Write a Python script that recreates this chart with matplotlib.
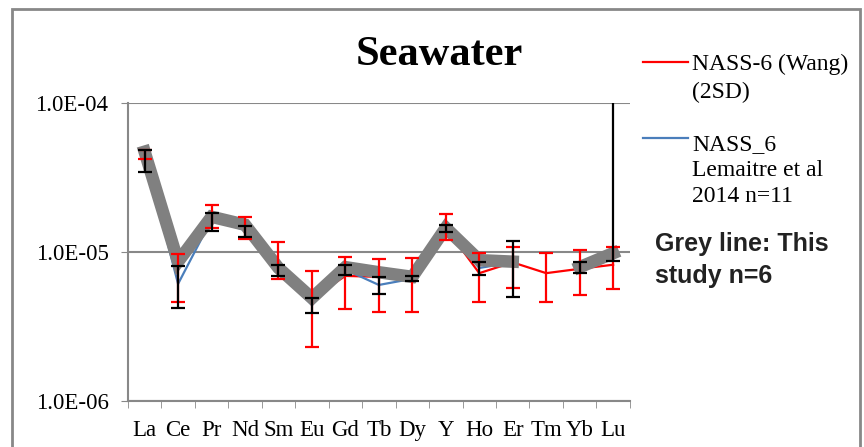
import matplotlib.pyplot as plt
from matplotlib.lines import Line2D
from matplotlib.patches import Rectangle
from matplotlib.ticker import FixedLocator, NullLocator
import numpy as np

elements = ['La', 'Ce', 'Pr', 'Nd', 'Sm', 'Eu', 'Gd', 'Tb', 'Dy', 'Y', 'Ho', 'Er', 'Tm', 'Yb', 'Lu']

# NASS-6 (Wang), 2SD bars
wang = [4.5e-5, 8.5e-6, 1.75e-5, 1.45e-5, 8.0e-6, 4.9e-6, 6.9e-6, 6.8e-6, 6.6e-6,
        1.45e-5, 7.2e-6, 8.5e-6, 7.2e-6, 7.7e-6, 8.2e-6]
wang_lo = [4.21e-5, 4.6e-6, 1.45e-5, 1.22e-5, 6.6e-6, 2.3e-6, 4.14e-6, 3.96e-6, 3.96e-6,
           1.2e-5, 4.62e-6, 5.73e-6, 4.62e-6, 5.14e-6, 5.65e-6]
wang_hi = [4.84e-5, 9.7e-6, 2.07e-5, 1.72e-5, 1.17e-5, 7.45e-6, 9.25e-6, 8.98e-6, 9.12e-6,
           1.80e-5, 9.85e-6, 1.08e-5, 9.85e-6, 1.03e-5, 1.08e-5]

# NASS_6 Lemaitre et al 2014
lem = [4.6e-5, 6.1e-6, 1.65e-5, 1.40e-5, 7.5e-6, 4.4e-6, 7.6e-6, 6.0e-6, 6.6e-6,
       1.45e-5, 7.8e-6, 8.5e-6, np.nan, 7.9e-6, 9.0e-6]
lem_lo = [3.44e-5, 4.21e-6, 1.38e-5, 1.26e-5, 6.9e-6, 3.9e-6, 7.0e-6, 5.23e-6, 6.4e-6,
          1.35e-5, 7.0e-6, 5.0e-6, np.nan, 7.23e-6, 8.7e-6]
lem_hi = [4.84e-5, 8.0e-6, 1.83e-5, 1.49e-5, 8.18e-6, 4.9e-6, 8.2e-6, 6.8e-6, 6.9e-6,
          1.52e-5, 8.6e-6, 1.19e-5, np.nan, 8.6e-6, 1.6e-4]

# this study n=6
grey = [4.7e-5, 8.6e-6, 1.72e-5, 1.52e-5, 7.8e-6, 4.9e-6, 7.9e-6, 7.3e-6, 6.8e-6,
        1.45e-5, 8.8e-6, 8.6e-6, np.nan, 7.9e-6, 9.8e-6]

x = np.arange(len(elements))
wang = np.array(wang)
lem = np.array(lem)

fig = plt.figure(figsize=(8.64, 4.47), dpi=100)
ax = fig.add_axes([0.148, 0.103, 0.581, 0.667])

ax.plot(x, wang, color='#ff0000', lw=1.6, zorder=2)
ax.plot(x, lem, color='#4a7ebb', lw=1.6, zorder=2)
ax.plot(x, grey, color='#808080', lw=9, zorder=3, solid_joinstyle='miter')

ax.errorbar(x, wang, yerr=[wang - np.array(wang_lo), np.array(wang_hi) - wang],
            fmt='none', ecolor='#ff0000', elinewidth=1.6, capsize=5, capthick=1.6, zorder=4)
ax.errorbar(x, lem, yerr=[lem - np.array(lem_lo), np.array(lem_hi) - lem],
            fmt='none', ecolor='black', elinewidth=1.6, capsize=5, capthick=1.6, zorder=5)

ax.set_yscale('log')
ax.set_ylim(1e-6, 1e-4)
ax.set_xlim(-0.5, len(elements) - 0.5)
ax.yaxis.set_major_locator(FixedLocator([1e-6, 1e-5, 1e-4]))
ax.yaxis.set_minor_locator(NullLocator())
ax.set_yticklabels(['1.0E-06', '1.0E-05', '1.0E-04'], family='Liberation Serif', fontsize=16.5)
ax.set_xticks(x)
ax.set_xticklabels(elements, family='Liberation Serif', fontsize=16.5)
ax.set_xticks(np.arange(-0.5, len(elements)), minor=True)
ax.tick_params(axis='x', which='major', length=0, pad=14)
ax.tick_params(axis='x', which='minor', length=5, color='#888888', direction='out')
ax.tick_params(axis='y', length=5, color='#888888', pad=9)
ax.yaxis.grid(True, color='#888888', lw=1.5)
ax.set_axisbelow(True)
for s in ['top', 'right']:
    ax.spines[s].set_visible(False)
for s in ['left', 'bottom']:
    ax.spines[s].set_color('#888888')
    ax.spines[s].set_linewidth(1.5)

fig.text(0.509, 0.877, 'Seawater', ha='center', va='center', family='Liberation Serif',
         fontsize=30.5, fontweight='bold')

# legend
fig.add_artist(Line2D([0.744, 0.796], [0.861, 0.861], color='#ff0000', lw=1.6))
fig.text(0.801, 0.880, 'NASS-6 (Wang)\n(2SD)', va='top', ha='left', family='Liberation Serif',
         fontsize=17, linespacing=1.45)
fig.add_artist(Line2D([0.744, 0.796], [0.691, 0.691], color='#4a7ebb', lw=1.6))
fig.text(0.801, 0.700, 'NASS_6\nLemaitre et al\n2014 n=11', va='top', ha='left',
         family='Liberation Serif', fontsize=17, linespacing=1.3)
fig.text(0.758, 0.480, 'Grey line: This\nstudy n=6', va='top', ha='left', family='Liberation Sans',
         fontsize=18, fontweight='bold', color='#222222', linespacing=1.38)

fig.add_artist(Rectangle((0.014, -0.05), 0.981, 1.03, transform=fig.transFigure,
                         fill=False, edgecolor='#888888', lw=2))

fig.savefig('out.png', dpi=100)
